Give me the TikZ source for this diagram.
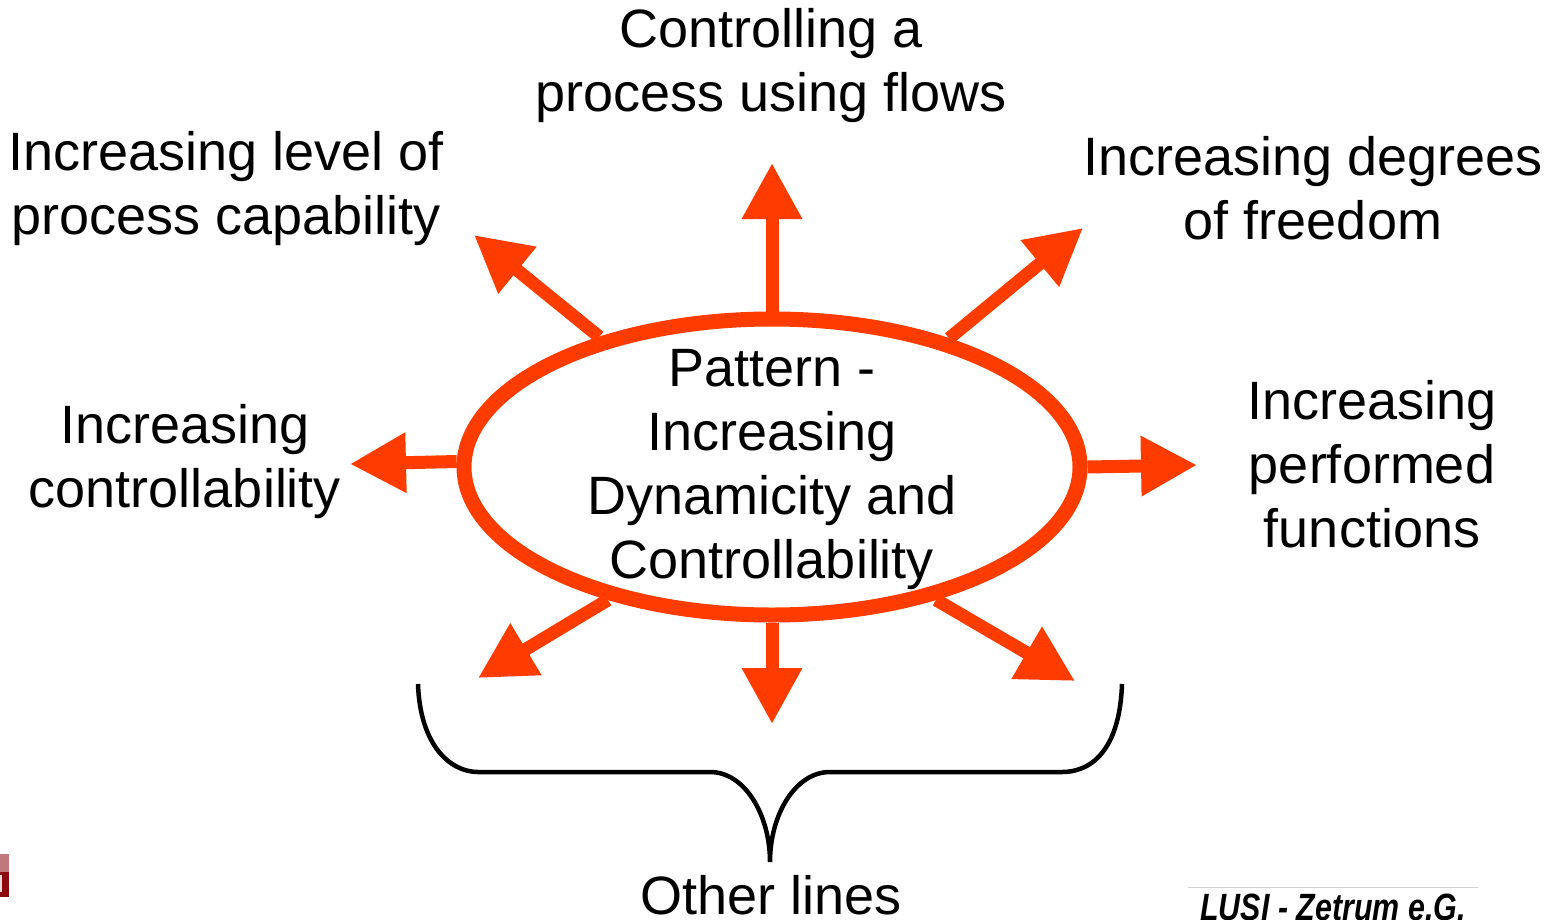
\documentclass[tikz,border=0pt]{standalone}
\usepackage{fontspec}
\setmainfont{Liberation Sans}
\newfontfamily\logofont{Liberation Sans}[FakeStretch=0.8]
\usetikzlibrary{arrows.meta,shapes.geometric}
\definecolor{ArrowRed}{RGB}{255,60,0}
\definecolor{LogoRed}{RGB}{140,10,15}
\begin{document}
\begin{tikzpicture}[x=1pt,y=-1pt,
  lbl/.style={font=\fontsize{54}{64}\selectfont,text=black,align=center,inner sep=0pt},
  ray/.style={draw=ArrowRed,line width=13pt,-{Triangle[length=56pt,width=57pt]},shorten >=0pt},
]
\useasboundingbox (0,0) rectangle (1550,919);
\begin{scope}
\clip (0,0) rectangle (1550,919);
\node[draw=ArrowRed,line width=15pt,ellipse,minimum width=616pt,minimum height=296pt,inner sep=0pt] (hub) at (772,467) {};
\node[lbl] (hubtext) at (772,470) {Pattern -\\Increasing\\Dynamicity and\\Controllability};
\node[lbl] (top) at (771,66) {Controlling a\\process using flows};
\node[lbl] (ul) at (226,189) {Increasing level of\\process capability};
\node[lbl] (ur) at (1313,188) {Increasing degrees\\of freedom};
\node[lbl] (left) at (185,462) {Increasing\\controllability};
\node[lbl] (right) at (1372,464) {Increasing\\performed\\functions};
\node[lbl,anchor=base] (other) at (771,914) {Other lines};
\coordinate (tT) at (772,163);
\coordinate (tUR) at (1083,228);
\coordinate (tUL) at (474,235);
\coordinate (tL) at (350,464);
\coordinate (tR) at (1197,465);
\coordinate (tB) at (772,724);
\coordinate (tBL) at (478,678);
\coordinate (tBR) at (1075,681);
\draw[ray] (hub.90) -- (tT);
\draw[ray] (hub.36) -- (tUR);
\draw[ray] (hub.143.4) -- (tUL);
\draw[ray] (hub.179.4) -- (tL);
\draw[ray] (hub.0.4) -- (tR);
\draw[ray] (hub.270) -- (tB);
\draw[ray] (hub.219) -- (tBL);
\draw[ray] (hub.321.4) -- (tBR);
\draw[black,line width=4.5pt] (418,684) .. controls (420,745) and (450,772) .. (478,772) -- (710,772) .. controls (745,772) and (770,815) .. (770,862) .. controls (770,815) and (795,772) .. (830,772) -- (1062,772) .. controls (1095,772) and (1120,745) .. (1122,684);
\fill[LogoRed!55!white] (0,854) rectangle (9,872);
\fill[LogoRed] (0,872) rectangle (9,897);
\fill[white!85!LogoRed] (0,875) rectangle (2,892);
\draw[black!18,line width=1pt] (1188,887) -- (1478,887);
\node[font=\logofont\bfseries\itshape\fontsize{38}{38}\selectfont,anchor=base,inner sep=0pt,text=black] (logo) at (1333,920) {LUSI - Zetrum e.G.};
\end{scope}
\end{tikzpicture}
\end{document}
